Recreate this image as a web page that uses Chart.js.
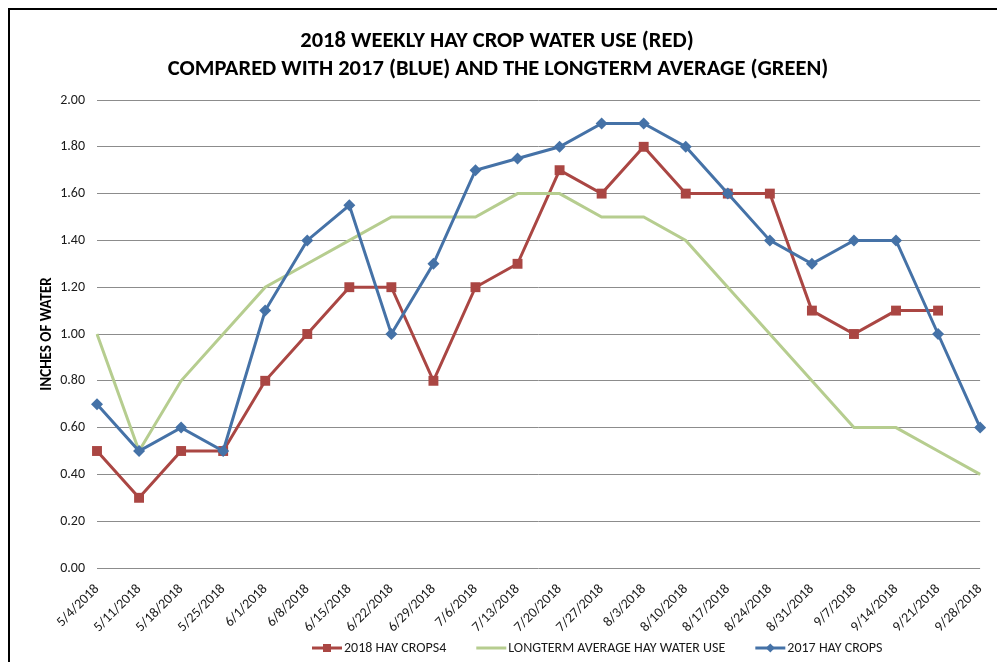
<!DOCTYPE html>
<html>
<head>
<meta charset="utf-8">
<script src="https://cdn.jsdelivr.net/npm/chart.js"></script>
<style>
  html, body { margin: 0; padding: 0; background: #fff; }
  #frame { position: absolute; left: 8px; top: 8px; width: 1000px; height: 700px; border: 2px solid #000; box-sizing: border-box; }
  #chart { position: absolute; left: 0; top: 0; }
</style>
</head>
<body>
<div id="frame"></div>
<canvas id="chart" width="997" height="662"></canvas>
<script>
// weekly dates
const weeks = ["5/4/2018", "5/11/2018", "5/18/2018", "5/25/2018", "6/1/2018", "6/8/2018",
  "6/15/2018", "6/22/2018", "6/29/2018", "7/6/2018", "7/13/2018", "7/20/2018", "7/27/2018",
  "8/3/2018", "8/10/2018", "8/17/2018", "8/24/2018", "8/31/2018", "9/7/2018", "9/14/2018",
  "9/21/2018", "9/28/2018"];

const hay2018 = [0.5, 0.3, 0.5, 0.5, 0.8, 1.0, 1.2, 1.2, 0.8, 1.2, 1.3, 1.7, 1.6, 1.8, 1.6, 1.6, 1.6, 1.1, 1.0, 1.1, 1.1, null];
const longterm = [1.0, 0.5, 0.8, 1.0, 1.2, 1.3, 1.4, 1.5, 1.5, 1.5, 1.6, 1.6, 1.5, 1.5, 1.4, 1.2, 1.0, 0.8, 0.6, 0.6, 0.5, 0.4];
const hay2017 = [0.7, 0.5, 0.6, 0.5, 1.1, 1.4, 1.55, 1.0, 1.3, 1.7, 1.75, 1.8, 1.9, 1.9, 1.8, 1.6, 1.4, 1.3, 1.4, 1.4, 1.0, 0.6];

const titleLines = ["2018 WEEKLY HAY CROP WATER USE (RED)", "COMPARED WITH 2017 (BLUE) AND THE LONGTERM AVERAGE (GREEN)"];

const FONT = "Carlito, Lato, 'Open Sans', sans-serif";
const TXT = "#1a1a1a";
const RED = "#AA4643", GREEN = "#B6CD8F", BLUE = "#4572A7";

// title + legend drawn by hand (Excel style legend: line with marker)
const decor = {
  id: "decor",
  afterDraw(chart) {
    const ctx = chart.ctx;
    ctx.save();
    ctx.fillStyle = "#000";
    ctx.font = "bold 22.5px " + FONT;
    ctx.textAlign = "center";
    ctx.textBaseline = "middle";
    ctx.fillText(titleLines[0], 497, 41);
    ctx.fillText(titleLines[1], 498, 69);

    ctx.font = "14px " + FONT;
    ctx.textAlign = "left";
    let x = 312;
    const y = 648;
    chart.data.datasets.forEach(ds => {
      ctx.strokeStyle = ds.borderColor;
      ctx.lineWidth = 3;
      ctx.beginPath();
      ctx.moveTo(x, y);
      ctx.lineTo(x + 30, y);
      ctx.stroke();
      ctx.fillStyle = ds.borderColor;
      if (ds.pointStyle === "rect") {
        ctx.fillRect(x + 11, y - 4, 8, 8);
      } else if (ds.pointStyle === "rectRot") {
        ctx.beginPath();
        ctx.moveTo(x + 15, y - 4.5);
        ctx.lineTo(x + 19.5, y);
        ctx.lineTo(x + 15, y + 4.5);
        ctx.lineTo(x + 10.5, y);
        ctx.closePath();
        ctx.fill();
      }
      ctx.fillStyle = TXT;
      ctx.fillText(ds.label, x + 32, y);
      x += 32 + ctx.measureText(ds.label).width + 30;
    });
    ctx.restore();
  }
};

new Chart(document.getElementById("chart"), {
  type: "line",
  data: {
    labels: weeks,
    datasets: [
      { label: "2018 HAY CROPS4", data: hay2018, borderColor: RED, backgroundColor: RED,
        borderWidth: 3, pointStyle: "rect", pointRadius: 7, pointBorderWidth: 0, order: 2 },
      { label: "LONGTERM AVERAGE HAY WATER USE", data: longterm, borderColor: GREEN, backgroundColor: GREEN,
        borderWidth: 3, pointRadius: 0, order: 1 },
      { label: "2017 HAY CROPS", data: hay2017, borderColor: BLUE, backgroundColor: BLUE,
        borderWidth: 3, pointStyle: "rectRot", pointRadius: 6, pointBorderWidth: 0, order: 0 }
    ]
  },
  options: {
    responsive: false,
    animation: false,
    devicePixelRatio: 1,
    layout: { padding: { left: 35, right: 8, top: 100, bottom: 0 } },
    plugins: {
      legend: { display: false },
      title: { display: false },
      tooltip: { enabled: false }
    },
    elements: { line: { tension: 0 } },
    scales: {
      x: {
        offset: false,
        grid: { display: false },
        border: { display: false },
        ticks: { minRotation: 45, maxRotation: 45, autoSkip: false, padding: 5, color: TXT,
          font: { family: FONT, size: 14 } },
        afterFit(s) { s.height = 94; }
      },
      y: {
        min: 0, max: 2,
        grid: { color: "#8c8c8c", lineWidth: 1, drawTicks: false },
        border: { display: false },
        ticks: { stepSize: 0.2, padding: 12, color: TXT, font: { family: FONT, size: 14 },
          callback: v => v.toFixed(2) },
        title: { display: true, text: "INCHES OF WATER", color: "#000", padding: { top: 3, bottom: 0 },
          font: { family: FONT, size: 15, weight: "bold" } },
        afterFit(s) { s.width = 62; }
      }
    }
  },
  plugins: [decor]
});
</script>
</body>
</html>
